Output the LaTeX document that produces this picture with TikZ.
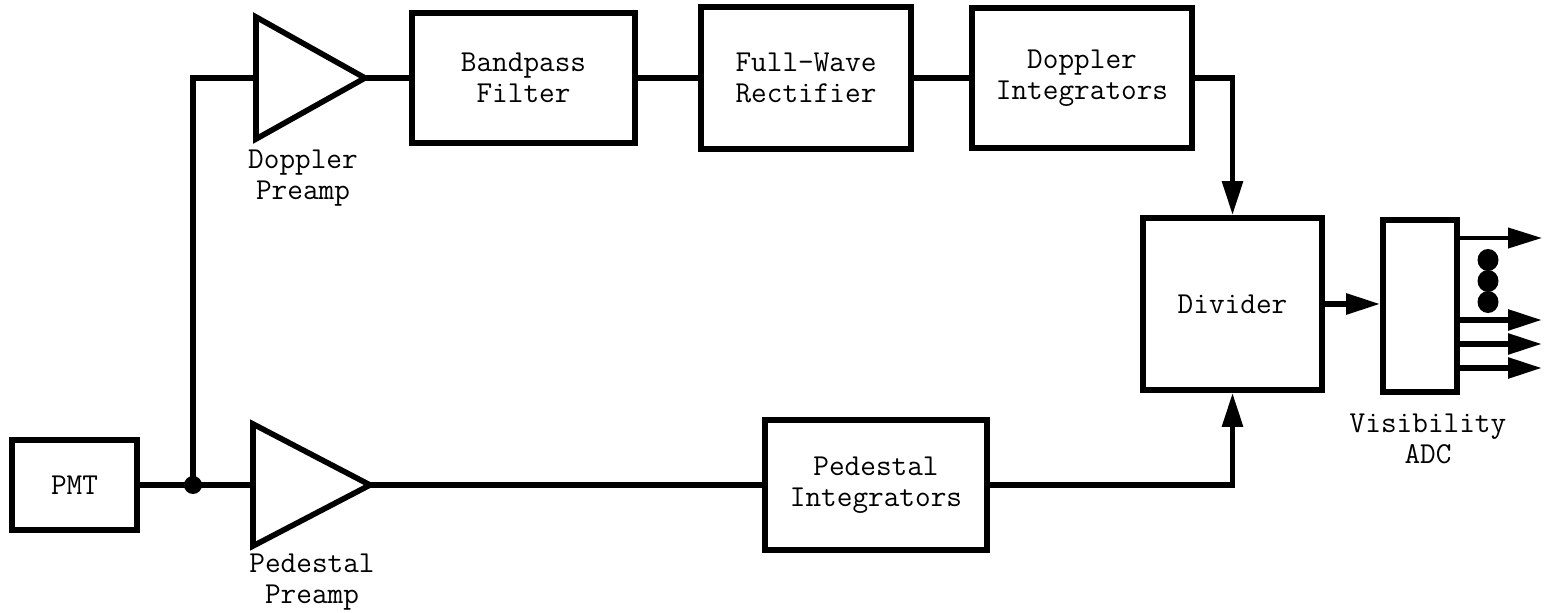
\documentclass[tikz,border=0pt]{standalone}
\usepackage{fontspec}
\usetikzlibrary{arrows.meta}
\newcommand{\lblfont}{\fontsize{15.2pt}{15.4pt}\selectfont\ttfamily}
\tikzset{
  wire/.style={line width=2.8pt},
  blk/.style={draw, line width=2.8pt, inner sep=0pt, align=center, font=\lblfont},
  lbl/.style={inner sep=0pt, align=center, font=\lblfont},
  arr/.style={wire, -{Triangle[length=17pt,width=10pt]}},
  amp/.style={line width=2.8pt, line join=miter},
}
\begin{document}
\begin{tikzpicture}[x=0.5pt,y=-0.5pt]
\useasboundingbox (0,0) rectangle (1545,613);
% blocks
\node[blk, minimum width=62.5pt, minimum height=45pt] (pmt) at (74.5,485) {PMT};
\node[blk, minimum width=111.5pt, minimum height=65pt] (bp) at (523.5,78) {Bandpass\\Filter};
\node[blk, minimum width=105pt, minimum height=71pt] (fw) at (806,78) {Full-Wave\\Rectifier};
\node[blk, minimum width=110pt, minimum height=70pt] (di) at (1082,78) {Doppler\\Integrators};
\node[blk, minimum width=111pt, minimum height=65pt] (pi) at (876,485) {Pedestal\\Integrators};
\node[blk, minimum width=89.5pt, minimum height=86pt] (dv) at (1232.5,304) {Divider};
\node[blk, minimum width=37pt, minimum height=86pt] (adc) at (1420,306) {};
% amplifiers
\coordinate (dpin) at (256,78);
\coordinate (dpout) at (365,78);
\coordinate (ppin) at (253,485);
\coordinate (ppout) at (370,485);
\draw[amp] (256,17) -- (256,139) -- (dpout) -- cycle;
\draw[amp] (253,424) -- (253,546) -- (ppout) -- cycle;
% labels
\node[lbl] (dplbl) at (303,178) {Doppler\\Preamp};
\node[lbl] (pplbl) at (312,582) {Pedestal\\Preamp};
\node[lbl] (adclbl) at (1428,439) {Visibility\\ADC};
% junction
\coordinate (j) at (193,485);
\fill (j) circle[radius=9];
% connectors
\draw[wire] (pmt.east) -- (ppin);
\draw[wire] (j) |- (dpin);
\draw[wire] (dpout) -- (bp.west);
\draw[wire] (bp.east) -- (fw.west);
\draw[wire] (fw.east) -- (di.west);
\draw[wire] (ppout) -- (pi.west);
\draw[arr] (di.east) -| (dv.north);
\draw[arr] (pi.east) -| (dv.south);
\draw[arr] (dv.east) -- (adc.west |- dv.east);
% outputs
\coordinate (o1) at (1542,238);
\coordinate (o2) at (1542,320);
\coordinate (o3) at (1542,344);
\coordinate (o4) at (1542,368);
\draw[arr, line width=2pt] (adc.east |- o1) -- (o1);
\draw[arr] (adc.east |- o2) -- (o2);
\draw[arr] (adc.east |- o3) -- (o3);
\draw[arr] (adc.east |- o4) -- (o4);
\fill (1488,260) ellipse[x radius=10.5, y radius=11];
\fill (1488,281) ellipse[x radius=10.5, y radius=11];
\fill (1488,302) ellipse[x radius=10.5, y radius=11];
\end{tikzpicture}
\end{document}
